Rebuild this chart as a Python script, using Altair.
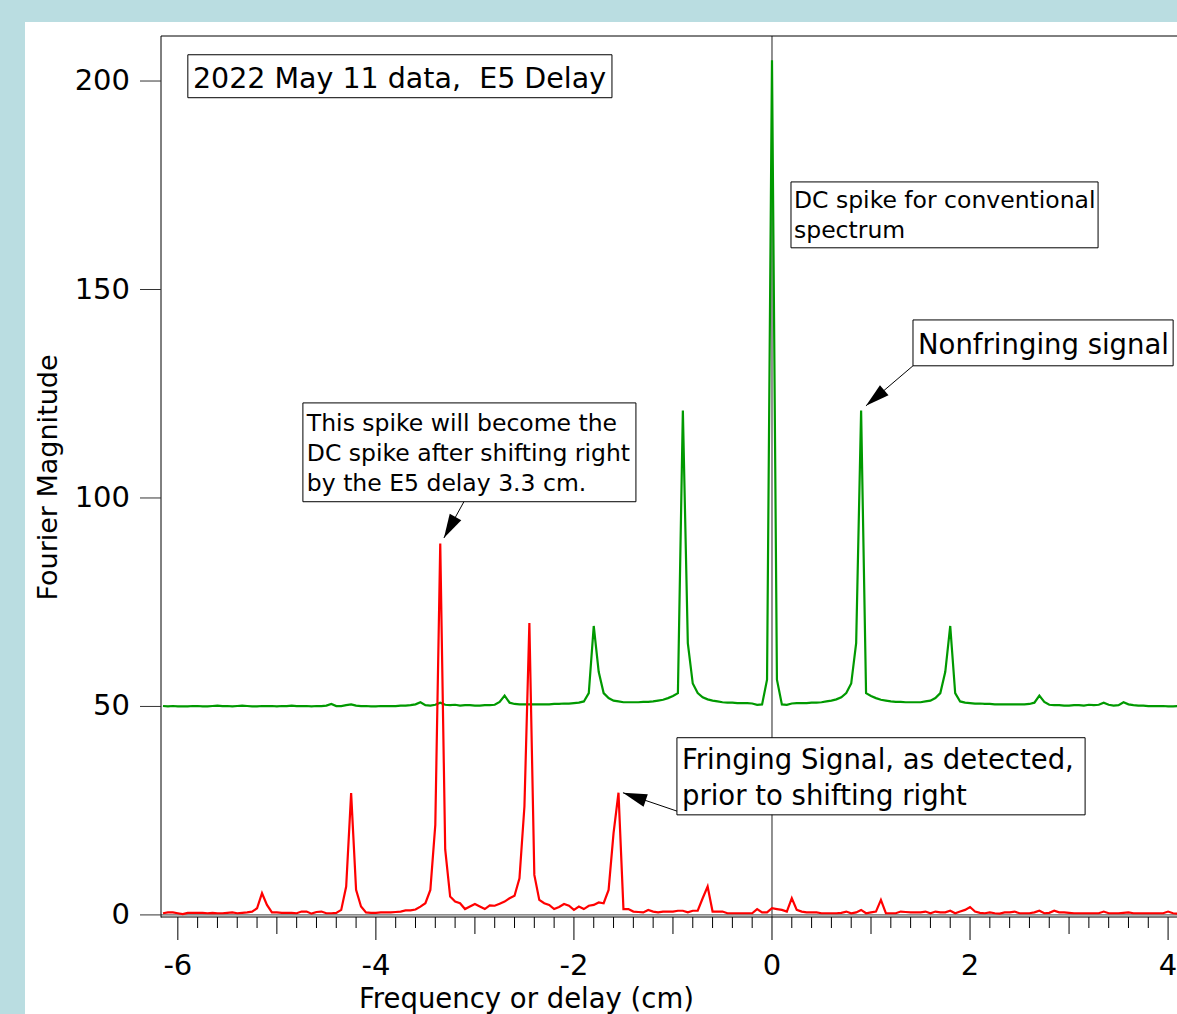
import math
import altair as alt
import pandas as pd

# ---------------- data ----------------
FREQ_START = -6.15   # first sample (cm)
FREQ_STEP = 0.05     # sample spacing (cm)

green_mag = [
    50.1, 50.0, 50.1, 50.0, 50.0, 50.0, 50.1, 50.1, 50.0, 50.0,
    50.1, 50.2, 50.1, 50.1, 50.0, 50.1, 50.2, 50.1, 50.0, 50.0,
    50.1, 50.1, 50.1, 50.0, 50.1, 50.1, 50.2, 50.1, 50.1, 50.1,
    50.0, 50.1, 50.1, 50.2, 50.6, 50.1, 50.1, 50.3, 50.5, 50.2,
    50.1, 50.1, 50.0, 50.0, 50.1, 50.1, 50.1, 50.1, 50.2, 50.2,
    50.3, 50.5, 51.0, 50.3, 50.2, 50.4, 50.9, 50.4, 50.3, 50.4,
    50.2, 50.3, 50.3, 50.2, 50.2, 50.3, 50.3, 50.4, 51.1, 52.6,
    50.9, 50.6, 50.5, 50.5, 50.5, 50.5, 50.5, 50.5, 50.5, 50.6,
    50.6, 50.7, 50.7, 50.8, 50.9, 51.2, 53.2, 69.3, 58.3, 53.2,
    52.0, 51.4, 51.2, 51.0, 51.0, 51.0, 51.0, 51.1, 51.1, 51.2,
    51.4, 51.6, 52.0, 52.5, 53.2, 121.0, 65.2, 55.5, 53.2, 52.2,
    51.7, 51.4, 51.2, 51.0, 50.9, 50.9, 50.8, 50.8, 50.8, 50.7,
    50.4, 50.5, 56.4, 205.0, 56.4, 50.5, 50.4, 50.7, 50.8, 50.8,
    50.8, 50.9, 50.9, 51.0, 51.2, 51.4, 51.7, 52.2, 53.2, 55.5,
    65.2, 121.0, 53.2, 52.5, 52.0, 51.6, 51.4, 51.2, 51.1, 51.1,
    51.0, 51.0, 51.0, 51.0, 51.2, 51.4, 52.0, 53.2, 58.3, 69.3,
    53.2, 51.2, 50.9, 50.8, 50.7, 50.7, 50.6, 50.6, 50.5, 50.5,
    50.5, 50.5, 50.5, 50.5, 50.5, 50.6, 50.9, 52.6, 51.1, 50.4,
    50.3, 50.3, 50.2, 50.2, 50.3, 50.3, 50.2, 50.4, 50.3, 50.4,
    50.9, 50.4, 50.2, 50.3, 51.0, 50.5, 50.3, 50.2, 50.2, 50.1,
    50.1, 50.1, 50.1, 50.0, 50.0, 50.1,
]

red_mag = [
    0.4, 0.6, 0.6, 0.4, 0.2, 0.5, 0.5, 0.5, 0.5, 0.4,
    0.5, 0.4, 0.4, 0.5, 0.6, 0.4, 0.5, 0.6, 0.8, 1.6,
    5.2, 2.4, 0.6, 0.6, 0.5, 0.5, 0.5, 0.4, 0.8, 0.8,
    0.3, 0.7, 0.8, 0.4, 0.4, 0.5, 1.2, 6.8, 29.2, 6.0,
    2.0, 0.6, 0.5, 0.5, 0.6, 0.6, 0.6, 0.7, 0.8, 1.1,
    1.1, 1.3, 2.0, 2.8, 6.0, 21.6, 89.1, 15.7, 4.4, 3.2,
    2.8, 1.4, 2.0, 2.6, 2.0, 1.4, 2.3, 2.2, 2.7, 3.2,
    4.0, 4.6, 8.8, 26.0, 70.0, 9.6, 3.6, 2.8, 2.4, 1.4,
    1.9, 2.6, 2.2, 1.2, 2.0, 1.4, 2.2, 2.4, 3.0, 2.8,
    6.0, 19.6, 29.3, 1.4, 1.4, 0.8, 0.7, 0.6, 1.2, 0.8,
    0.6, 0.8, 0.8, 0.8, 1.0, 1.0, 0.6, 1.0, 1.0, 4.0,
    6.8, 0.8, 0.8, 0.8, 0.4, 0.4, 0.4, 0.4, 0.4, 0.4,
    1.4, 0.6, 0.6, 1.6, 1.4, 1.2, 0.8, 4.0, 1.2, 0.8,
    0.6, 0.6, 0.6, 0.4, 0.4, 0.4, 0.4, 0.5, 0.8, 0.4,
    0.6, 1.2, 0.4, 0.6, 0.8, 3.6, 0.4, 0.4, 0.4, 0.8,
    0.7, 0.6, 0.6, 0.6, 0.8, 0.4, 0.8, 0.6, 0.6, 1.0,
    0.4, 0.8, 1.2, 1.9, 0.8, 0.5, 0.4, 0.6, 0.4, 0.3,
    0.6, 0.6, 0.8, 0.4, 0.4, 0.4, 0.6, 1.0, 0.4, 0.5,
    1.0, 0.6, 0.6, 0.5, 0.4, 0.4, 0.4, 0.4, 0.4, 0.4,
    0.8, 0.4, 0.4, 0.4, 0.5, 0.6, 0.4, 0.4, 0.4, 0.4,
    0.4, 0.4, 0.4, 0.8, 0.4, 0.3,
]

freq = [round(FREQ_START + FREQ_STEP * i, 2) for i in range(len(green_mag))]

# axis ticks and labels
x_major_ticks = [-6, -4, -2, 0, 2, 4]
x_major_labels = ["-6", "-4", "-2", "0", "2", "4"]
x_mid_ticks = [-5, -3, -1, 1, 3]
x_minor_ticks = [round(-6.0 + 0.2 * k, 1) for k in range(51) if k % 5 != 0]
y_ticks = [0, 50, 100, 150, 200]
y_labels = ["0", "50", "100", "150", "200"]
X_TITLE = "Frequency or delay (cm)"
Y_TITLE = "Fourier Magnitude"

# annotation boxes (data coordinates)
box_x1 = [-5.899, 0.192, 1.424, -4.737, -0.960]
box_x2 = [-1.616, 3.293, 4.051, -1.374, 3.162]
box_y1 = [196.0, 160.0, 131.7, 99.1, 24.0]
box_y2 = [206.3, 175.8, 142.7, 122.8, 42.5]

# annotation text lines (left, baseline)
note_text = [
    "2022 May 11 data,\u00a0 E5 Delay",
    "DC spike for conventional",
    "spectrum",
    "Nonfringing signal",
    "This spike will become the",
    "DC spike after shifting right",
    "by the E5 delay 3.3 cm.",
    "Fringing Signal, as detected,",
    "prior to shifting right",
]
note_x = [-5.848, 0.222, 0.222, 1.475, -4.697, -4.697, -4.697, -0.909, -0.909]
note_y = [198.4, 169.6, 162.4, 134.6, 116.1, 108.9, 101.7, 35.0, 26.4]
note_size = [28.5, 23.5, 23.5, 27.5, 23.5, 23.5, 23.5, 27.5, 27.5]

# arrows: start -> tip
arrow_x1 = [1.424, -3.111, -0.960]
arrow_y1 = [131.7, 99.1, 24.9]
arrow_x2 = [0.949, -3.313, -1.505]
arrow_y2 = [122.1, 90.4, 29.3]

# ---------------- layout ----------------
X_DOMAIN = [-6.17, 4.09]
Y_DOMAIN = [-0.5, 210.8]
W, H = 1016, 881
PAD = {"left": 161, "top": 36, "right": 0, "bottom": 97}
FONT = "DejaVu Sans"
BG_BLUE = "#badde1"

px_x = W / (X_DOMAIN[1] - X_DOMAIN[0])
px_y = H / (Y_DOMAIN[1] - Y_DOMAIN[0])

spectra = pd.DataFrame({
    "freq": freq * 2,
    "mag": green_mag + red_mag,
    "series": ["conventional"] * len(green_mag) + ["fringing"] * len(red_mag),
})
green_df = spectra[spectra.series == "conventional"]
red_df = spectra[spectra.series == "fringing"]

boxes = pd.DataFrame({"x1": box_x1, "x2": box_x2, "y1": box_y1, "y2": box_y2})
notes = pd.DataFrame({"text": note_text, "x": note_x, "y": note_y, "size": note_size})
angles = []
for xa, ya, xb, yb in zip(arrow_x1, arrow_y1, arrow_x2, arrow_y2):
    dx = (xb - xa) * px_x
    dy = -(yb - ya) * px_y
    angles.append(math.degrees(math.atan2(dx, -dy)) % 360)
arrows = pd.DataFrame({"x1": arrow_x1, "y1": arrow_y1, "x2": arrow_x2, "y2": arrow_y2, "angle": angles})
major_df = pd.DataFrame({"t": x_major_ticks, "label": x_major_labels})
mid_df = pd.DataFrame({"t": x_mid_ticks})
minor_df = pd.DataFrame({"t": x_minor_ticks})
ytick_df = pd.DataFrame({"v": y_ticks, "label": y_labels})

xscale = alt.Scale(domain=X_DOMAIN, nice=False, zero=False)
yscale = alt.Scale(domain=Y_DOMAIN, nice=False, zero=False)


def X(field):
    return alt.X(field, scale=xscale, axis=None)


def Y(field):
    return alt.Y(field, scale=yscale, axis=None)


one = alt.Data(values=[{"k": 1}])

# light blue frame strips (page background outside the white figure)
blue_left = alt.Chart(one).mark_rect(color=BG_BLUE).encode(
    x=alt.value(-PAD["left"] - 2), x2=alt.value(-136), y=alt.value(-PAD["top"] - 2), y2=alt.value(H + 120)
)
blue_top = alt.Chart(one).mark_rect(color=BG_BLUE).encode(
    x=alt.value(-PAD["left"] - 2), x2=alt.value(W + 40), y=alt.value(-PAD["top"] - 2), y2=alt.value(-14)
)

# frame / axis lines
top_frame = alt.Chart(one).mark_rule(color="black", strokeWidth=1).encode(
    x=alt.value(0), x2=alt.value(W + 2), y=alt.value(0)
)
left_axis = alt.Chart(one).mark_rule(color="black", strokeWidth=1).encode(
    x=alt.value(0), y=alt.value(0), y2=alt.value(H + 0.5)
)
bottom_axis = alt.Chart(one).mark_rule(color="black", strokeWidth=1).encode(
    x=alt.value(0), x2=alt.value(W + 2), y=alt.value(H)
)
zero_v = alt.Chart(one).mark_rule(color="#555555", strokeWidth=1.3).encode(
    x=alt.datum(0, scale=xscale, axis=None), y=alt.value(0), y2=alt.value(H)
)
zero_h = alt.Chart(one).mark_rule(color="#666666", strokeWidth=1.3).encode(
    y=alt.datum(0, scale=yscale, axis=None), x=alt.value(0), x2=alt.value(W)
)

# x ticks and labels
major_ticks = alt.Chart(major_df).mark_rule(color="black", strokeWidth=1).encode(
    x=X("t:Q"), y=alt.value(H), y2=alt.value(H + 23)
)
mid_ticks = alt.Chart(mid_df).mark_rule(color="black", strokeWidth=1).encode(
    x=X("t:Q"), y=alt.value(H), y2=alt.value(H + 17)
)
minor_ticks = alt.Chart(minor_df).mark_rule(color="black", strokeWidth=1).encode(
    x=X("t:Q"), y=alt.value(H), y2=alt.value(H + 11)
)
x_labels = alt.Chart(major_df).mark_text(
    font=FONT, fontSize=29, color="black", align="center", baseline="alphabetic"
).encode(x=X("t:Q"), y=alt.value(H + 58), text="label:N")
x_title = alt.Chart(one).mark_text(
    font=FONT, fontSize=27.5, color="black", align="center", baseline="alphabetic", text=X_TITLE
).encode(x=alt.value(365.5), y=alt.value(H + 90.5))

# y ticks and labels
y_tick_marks = alt.Chart(ytick_df).mark_rule(color="#333333", strokeWidth=1).encode(
    y=Y("v:Q"), x=alt.value(-21), x2=alt.value(0)
)
y_label_marks = alt.Chart(ytick_df).mark_text(
    font=FONT, fontSize=29, color="black", align="right", baseline="middle"
).encode(y=Y("v:Q"), x=alt.value(-31), text="label:N")
y_title = alt.Chart(one).mark_text(
    font=FONT, fontSize=27, color="black", align="center", baseline="alphabetic",
    angle=270, text=Y_TITLE
).encode(x=alt.value(-104), y=alt.value(441.5))

# data
green_line = alt.Chart(green_df).mark_line(color="#009900", strokeWidth=2.2, clip=True).encode(
    x=X("freq:Q"), y=Y("mag:Q"),
)
red_line = alt.Chart(red_df).mark_line(color="#ff0000", strokeWidth=2.2, clip=True).encode(
    x=X("freq:Q"), y=Y("mag:Q"),
)

# annotations
box_layer = alt.Chart(boxes).mark_rect(fill="white", stroke="black", strokeWidth=1).encode(
    x=X("x1:Q"), x2="x2:Q", y=Y("y1:Q"), y2="y2:Q",
)
text_layer = alt.Chart(notes).mark_text(
    align="left", baseline="alphabetic", font=FONT, color="black"
).encode(
    x=X("x:Q"), y=Y("y:Q"), text="text:N",
    size=alt.Size("size:Q", scale=None, legend=None),
)
arrow_lines = alt.Chart(arrows).mark_rule(color="black", strokeWidth=1).encode(
    x=X("x1:Q"), x2="x2:Q", y=Y("y1:Q"), y2="y2:Q",
)
arrow_heads = alt.Chart(arrows).mark_point(
    shape="M0,0L-0.55,2L0.55,2Z", filled=True, color="black", size=576, opacity=1, strokeWidth=0
).encode(
    x=X("x2:Q"), y=Y("y2:Q"),
    angle=alt.Angle("angle:Q", scale=None),
)

chart = alt.layer(
    blue_left, blue_top,
    zero_v, zero_h,
    green_line, red_line,
    top_frame, left_axis, bottom_axis,
    major_ticks, mid_ticks, minor_ticks, x_labels, x_title,
    y_tick_marks, y_label_marks, y_title,
    box_layer, text_layer, arrow_lines, arrow_heads,
).properties(
    width=W, height=H,
    autosize=alt.AutoSizeParams(type="none"),
    padding=PAD,
    background="white",
).configure_view(stroke=None)

chart.save("out.html", embed_options={"renderer": "svg", "actions": False})
